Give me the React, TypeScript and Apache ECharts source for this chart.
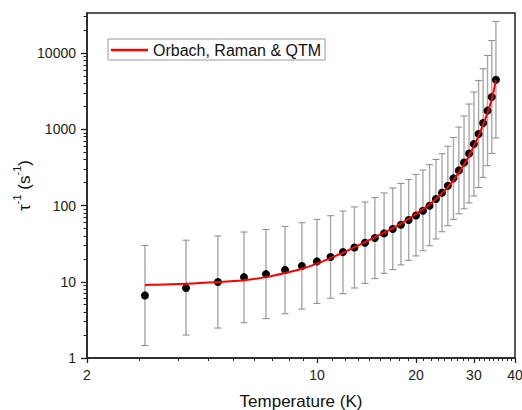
import React, { useEffect, useRef } from "react";
import * as echarts from "echarts";

const temps = [3, 4, 5, 6, 7, 8, 9, 10, 11, 12, 13, 14, 15, 16, 17, 18, 19, 20, 21, 22, 23, 24, 25, 26, 27, 28, 29, 30, 31, 32, 33, 34, 35];
const rates = [6.62, 8.28, 9.93, 11.5, 12.6, 14.3, 16.1, 18.5, 21.1, 24.5, 28.2, 32.5, 37.5, 43.1, 49.2, 56.0, 64.5, 74.1, 85.5, 99.4, 122, 147, 182, 227, 289, 367, 482, 641, 867, 1208, 1757, 2656, 4467];
const errUpper = [30.0, 35.1, 39.9, 44.9, 48.6, 53.2, 59.5, 65.7, 73.5, 84.7, 95.9, 111, 127, 146, 170, 195, 220, 256, 292, 343, 402, 478, 600, 782, 1070, 1493, 2143, 3077, 4373, 6223, 9305, 14630, 25960];
const errLower = [1.46, 2.0, 2.47, 2.9, 3.28, 3.81, 4.39, 5.2, 6.07, 6.97, 8.28, 9.51, 11.0, 12.9, 14.4, 16.6, 19.1, 21.8, 25.5, 29.7, 36.4, 45.3, 54.3, 65.7, 77.8, 90.5, 108, 133, 172, 234, 332, 482, 768];
const fitRates = [9.1, 9.4, 9.9, 10.5, 11.5, 13.0, 14.8, 17.3, 20.5, 24, 28.5, 33, 38.5, 44, 50.5, 58, 67, 77.5, 90, 104, 122, 145, 175, 215, 270, 345, 450, 600, 820, 1150, 1650, 2500, 4400];

const xMajorTicks = [2, 10, 20, 30, 40];
const xMinorTicks = [
  2.889, 3.778, 4.667, 5.556, 6.444, 7.333, 8.222, 9.111,
  11.11, 12.22, 13.33, 14.44, 15.56, 16.67, 17.78, 18.89,
  21.11, 22.22, 23.33, 24.44, 25.56, 26.67, 27.78, 28.89,
  31.11, 32.22, 33.33, 34.44, 35.56, 36.67, 37.78, 38.89,
];
const yMajorTicks = [1, 10, 100, 1000, 10000];
const yMinorTicks = [
  2, 3, 4, 5, 6, 7, 8, 9,
  20, 30, 40, 50, 60, 70, 80, 90,
  200, 300, 400, 500, 600, 700, 800, 900,
  2000, 3000, 4000, 5000, 6000, 7000, 8000, 9000,
  20000, 30000,
];

const FONT = "'Liberation Sans', Arial, sans-serif";
const X_MIN = 2;
const X_MAX = 40;
const Y_MIN = 1;
const Y_MAX = 33500;

export default function App() {
  const ref = useRef<HTMLDivElement>(null);
  useEffect(() => {
    if (!ref.current) return;
    const chart = echarts.init(ref.current, undefined, { renderer: "svg" });
    const fmt = (v: number) => String(Math.round(v * 1000) / 1000);
    const axisLine = { show: true, lineStyle: { color: "#222", width: 1.5 } };
    const option: any = {
      animation: false,
      backgroundColor: "#fff",
      grid: {
        left: 87,
        top: 13,
        right: 7,
        bottom: 52,
        containLabel: false,
        outerBoundsMode: "none",
        show: true,
        borderColor: "#222",
        borderWidth: 1.5,
        backgroundColor: "transparent",
      },
      legend: {
        data: ["Orbach, Raman & QTM"],
        left: 108,
        top: 39,
        icon: "rect",
        itemWidth: 37,
        itemHeight: 2.5,
        padding: [3, 4, 2, 3],
        borderColor: "#999",
        borderWidth: 1,
        borderRadius: 0,
        textStyle: { fontSize: 16, fontFamily: FONT, color: "#111" },
      },
      xAxis: [
        {
          type: "log",
          logBase: 10,
          min: X_MIN,
          max: X_MAX,
          name: "Temperature (K)",
          nameLocation: "middle",
          nameGap: 35,
          nameMoveOverlap: false,
          nameTextStyle: { fontSize: 17, fontFamily: FONT, color: "#111" },
          axisLine,
          axisTick: { show: true, customValues: xMajorTicks, length: 5, inside: false, lineStyle: { color: "#222", width: 1.3 } },
          axisLabel: { show: true, customValues: xMajorTicks, formatter: fmt, margin: 10, fontSize: 14, fontFamily: FONT, color: "#222" },
          splitLine: { show: false },
          minorTick: { show: false },
        },
        {
          type: "log",
          logBase: 10,
          min: X_MIN,
          max: X_MAX,
          position: "bottom",
          offset: 0,
          axisLine: { show: false },
          axisTick: { show: true, customValues: xMinorTicks, length: 3, inside: false, lineStyle: { color: "#222", width: 1 } },
          axisLabel: { show: false },
          splitLine: { show: false },
        },
      ],
      yAxis: [
        {
          type: "log",
          logBase: 10,
          min: Y_MIN,
          max: Y_MAX,
          position: "left",
          name: "{a|τ}{s|-1}{a| (s}{s|-1}{a|)}",
          nameLocation: "middle",
          nameGap: 54,
          nameMoveOverlap: false,
          nameRotate: 90,
          nameTextStyle: {
            fontFamily: FONT,
            color: "#111",
            rich: {
              a: { fontSize: 17, fontFamily: FONT, color: "#111", lineHeight: 22, verticalAlign: "bottom" },
              s: { fontSize: 11, fontFamily: FONT, color: "#111", lineHeight: 22, verticalAlign: "top", padding: [0, 0, 8, 0] },
            },
          },
          axisLine,
          axisTick: { show: true, customValues: yMajorTicks, length: 6, inside: false, lineStyle: { color: "#222", width: 1.3 } },
          axisLabel: { show: true, customValues: yMajorTicks, formatter: fmt, margin: 11, fontSize: 14, fontFamily: FONT, color: "#222" },
          splitLine: { show: false },
        },
        {
          type: "log",
          logBase: 10,
          min: Y_MIN,
          max: Y_MAX,
          position: "left",
          offset: 0,
          axisLine: { show: false },
          axisTick: { show: true, customValues: yMinorTicks, length: 3.5, inside: false, lineStyle: { color: "#222", width: 1 } },
          axisLabel: { show: false },
          splitLine: { show: false },
        },
      ],
      series: [
        {
          name: "errors",
          type: "custom",
          xAxisIndex: 0,
          yAxisIndex: 0,
          encode: { x: 0, y: [1, 2] },
          data: temps.map((t, i) => [t, errLower[i], errUpper[i]]),
          z: 1,
          renderItem: (params: any, api: any) => {
            const x = api.value(0);
            const lo = api.coord([x, api.value(1)]);
            const hi = api.coord([x, api.value(2)]);
            const w = 3.5;
            const st = { stroke: "#8a8a8a", lineWidth: 1 };
            return {
              type: "group",
              children: [
                { type: "line", shape: { x1: lo[0], y1: lo[1], x2: hi[0], y2: hi[1] }, style: { stroke: "#a8a8a8", lineWidth: 1.4 } },
                { type: "line", shape: { x1: hi[0] - w, y1: hi[1], x2: hi[0] + w, y2: hi[1] }, style: st },
                { type: "line", shape: { x1: lo[0] - w, y1: lo[1], x2: lo[0] + w, y2: lo[1] }, style: st },
              ],
            };
          },
        },
        {
          name: "data",
          type: "scatter",
          data: temps.map((t, i) => [t, rates[i]]),
          symbol: "circle",
          symbolSize: 8,
          itemStyle: { color: "#000", opacity: 1 },
          z: 2,
        },
        {
          name: "Orbach, Raman & QTM",
          type: "line",
          data: temps.map((t, i) => [t, fitRates[i]]),
          symbol: "none",
          smooth: 0.3,
          lineStyle: { color: "#ff0000", width: 2 },
          itemStyle: { color: "#ff0000" },
          z: 3,
        },
      ],
    };
    chart.setOption(option);
    return () => chart.dispose();
  }, []);
  return <div ref={ref} style={{ width: 522, height: 410, position: "absolute", left: 0, top: 0 }} />;
}
